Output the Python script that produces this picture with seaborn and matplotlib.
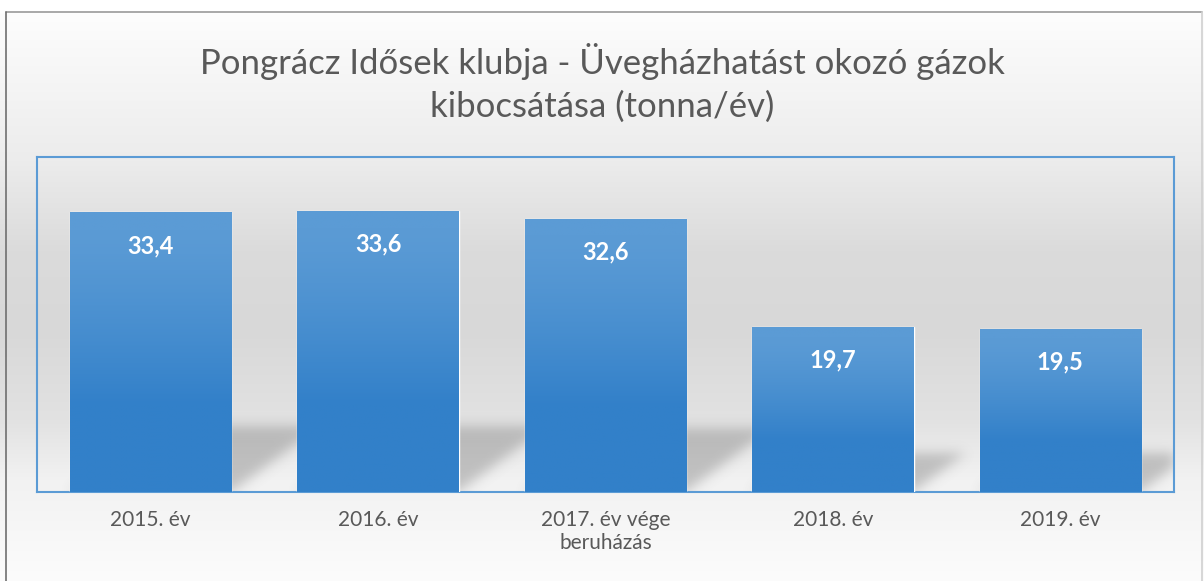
import matplotlib
matplotlib.use("Agg")
import matplotlib.pyplot as plt
from matplotlib.lines import Line2D
import seaborn as sns
import pandas as pd
import numpy as np

# data
categories = ["2015. év", "2016. év", "2017. év vége\nberuházás", "2018. év", "2019. év"]
values = [33.4, 33.6, 32.6, 19.7, 19.5]
value_labels = ["33,4", "33,6", "32,6", "19,7", "19,5"]
title = "Pongrácz Idősek klubja - Üvegházhatást okozó gázok\nkibocsátása (tonna/év)"

sns.set_style("white")
plt.rcParams["font.family"] = ["Lato", "DejaVu Sans"]

W, H = 1204, 581
fig = plt.figure(figsize=(W / 100, H / 100), dpi=100)

# background: reflective grey gradient behind the whole chart
bg = fig.add_axes([0, 0, 1, 1], zorder=0)
ys = np.array([0, 12, 13, 100, 160, 250, 330, 420, 480, 581])
gs = np.array([255, 255, 253, 243, 236, 219, 216, 226, 242, 252])
grey = np.interp(np.arange(H), ys, gs) / 255.0
img = np.repeat(grey[:, None], 2, axis=1)
bg.imshow(np.dstack([img, img, img]), extent=[0, W, H, 0], aspect="auto")
bg.set_xlim(0, W)
bg.set_ylim(H, 0)
bg.axis("off")

# outer frame of the chart
fig.add_artist(Line2D([6 / W, 1202 / W], [1 - 12 / H, 1 - 12 / H], color="#9a9a9a", lw=1.2))
fig.add_artist(Line2D([6 / W, 6 / W], [0, 1 - 12 / H], color="#6f6f6f", lw=1.2))
fig.add_artist(Line2D([1202 / W, 1202 / W], [0, 1 - 12 / H], color="#d0d0d0", lw=1.2))

ax = fig.add_axes([37 / W, 1 - 492 / H, (1174 - 37) / W, (492 - 157) / H], zorder=1)
ax.patch.set_alpha(0)

df = pd.DataFrame({"cat": categories, "val": values})
sns.barplot(data=df, x="cat", y="val", color="#5B9BD5", saturation=1, width=0.71, ax=ax, zorder=3)
ax.set_xlim(-0.5, len(categories) - 0.5)
ax.set_ylim(0, 40)

# perspective shadows behind the bars
nx, ny = 1137, 335
xg = np.linspace(-0.5, len(categories) - 0.5, nx)
yg = np.linspace(0, 40, ny)
X, Y = np.meshgrid(xg, yg)
mask = np.zeros_like(X)
shear = 0.05
for p, v in zip(ax.patches, values):
    x0, x1 = p.get_x(), p.get_x() + p.get_width()
    hs = 0.235 * v
    inside = (Y <= hs) & (X >= x0 + shear * Y) & (X <= x1 + shear * Y)
    mask[inside] = 1.0
k = np.exp(-0.5 * (np.arange(-18, 19) / 6.0) ** 2)
k /= k.sum()
mask = np.apply_along_axis(lambda r: np.convolve(r, k, mode="same"), 1, mask)
mask = np.apply_along_axis(lambda c: np.convolve(c, k, mode="same"), 0, mask)
shadow = np.zeros((ny, nx, 4))
shadow[..., :3] = 0.42
shadow[..., 3] = mask * 0.36
ax.imshow(shadow, extent=[-0.5, len(categories) - 0.5, 0, 40], origin="lower",
          aspect="auto", zorder=2, interpolation="bilinear")

# vertical gradient fill for each bar
top_c = np.array([91, 155, 213]) / 255.0
bot_c = np.array([50, 128, 201]) / 255.0
t = np.linspace(0, 1, 200)
w = np.clip((1 - t) * 1.6 - 0.1, 0, 1) ** 1.3
grad = top_c[None, :] * (1 - w[:, None]) + bot_c[None, :] * w[:, None]
grad = np.repeat(grad[:, None, :], 2, axis=1)
for p in ax.patches:
    x0, h = p.get_x(), p.get_height()
    im = ax.imshow(grad, extent=[x0, x0 + p.get_width(), 0, h], origin="lower",
                   aspect="auto", zorder=4)
    im.set_clip_path(p)

for p, lab in zip(ax.patches, value_labels):
    ax.annotate(lab, (p.get_x() + p.get_width() / 2, p.get_height()),
                xytext=(0, -24), textcoords="offset points", ha="center", va="center",
                color="white", fontsize=17, fontweight="bold", zorder=5)

ax.set_xlim(-0.5, len(categories) - 0.5)
ax.set_ylim(0, 40)
ax.set_xlabel("")
ax.set_ylabel("")
ax.set_yticks([])
ax.tick_params(axis="x", length=0, pad=13, labelsize=15, labelcolor="#595959")
for s in ax.spines.values():
    s.set_visible(True)
    s.set_color("#5B9BD5")
    s.set_linewidth(1.5)

fig.text(0.5, 1 - 83 / H, title, ha="center", va="center", fontsize=25,
         color="#595959", linespacing=1.38)

fig.savefig("out.png", dpi=100)
